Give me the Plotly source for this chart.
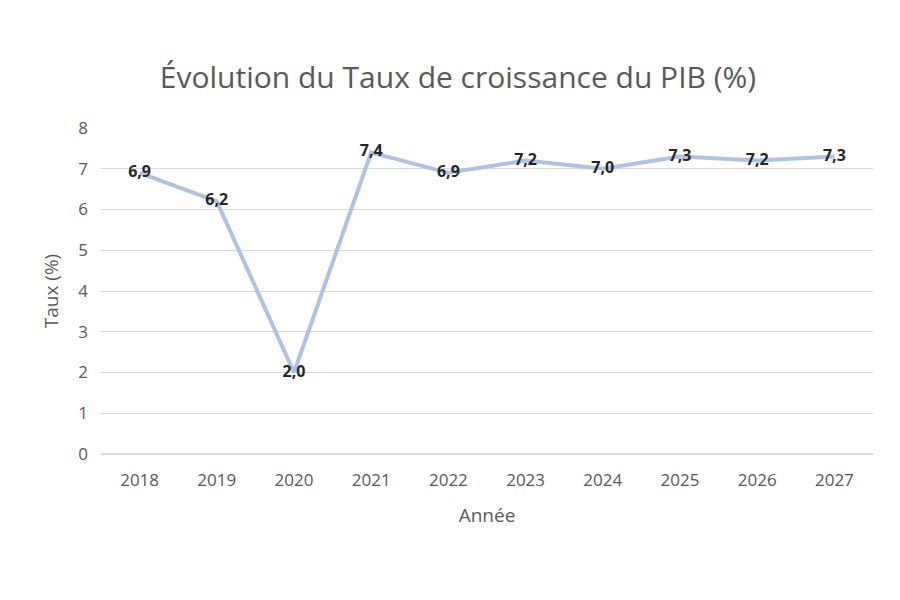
import plotly.graph_objects as go

annees = ["2018", "2019", "2020", "2021", "2022", "2023", "2024", "2025", "2026", "2027"]
taux = [6.9, 6.2, 2.0, 7.4, 6.9, 7.2, 7.0, 7.3, 7.2, 7.3]
etiquettes = [f"{v:.1f}".replace(".", ",") for v in taux]

fig = go.Figure()
fig.add_trace(go.Scatter(
    x=annees, y=taux, mode="lines+text",
    line=dict(color="#aec2e6", width=4),
    text=etiquettes, textposition="middle center",
    textfont=dict(family="Open Sans", size=16, color="#262626", weight="bold"),
    cliponaxis=False,
))
fig.update_layout(
    width=900, height=600,
    paper_bgcolor="white", plot_bgcolor="white",
    margin=dict(l=93, r=35, t=120, b=154),
    font=dict(family="Open Sans", color="#595959", size=17),
    title=dict(text="Évolution du Taux de croissance du PIB (%)", x=0.5, xanchor="center",
               y=0.885, yanchor="middle", font=dict(size=30, color="#595959")),
    showlegend=False,
)
fig.update_xaxes(type="category", title=dict(text="Année", font=dict(size=19), standoff=18),
                 showgrid=False, showline=False, ticks="", ticklabelstandoff=14)
fig.update_yaxes(range=[0, 8], dtick=1, title=dict(text="Taux (%)", font=dict(size=19), standoff=14),
                 gridcolor="#d9d9d9", zeroline=True, zerolinecolor="#d9d9d9", ticks="",
                 ticklabelstandoff=12)
fig.write_html("out.html")
